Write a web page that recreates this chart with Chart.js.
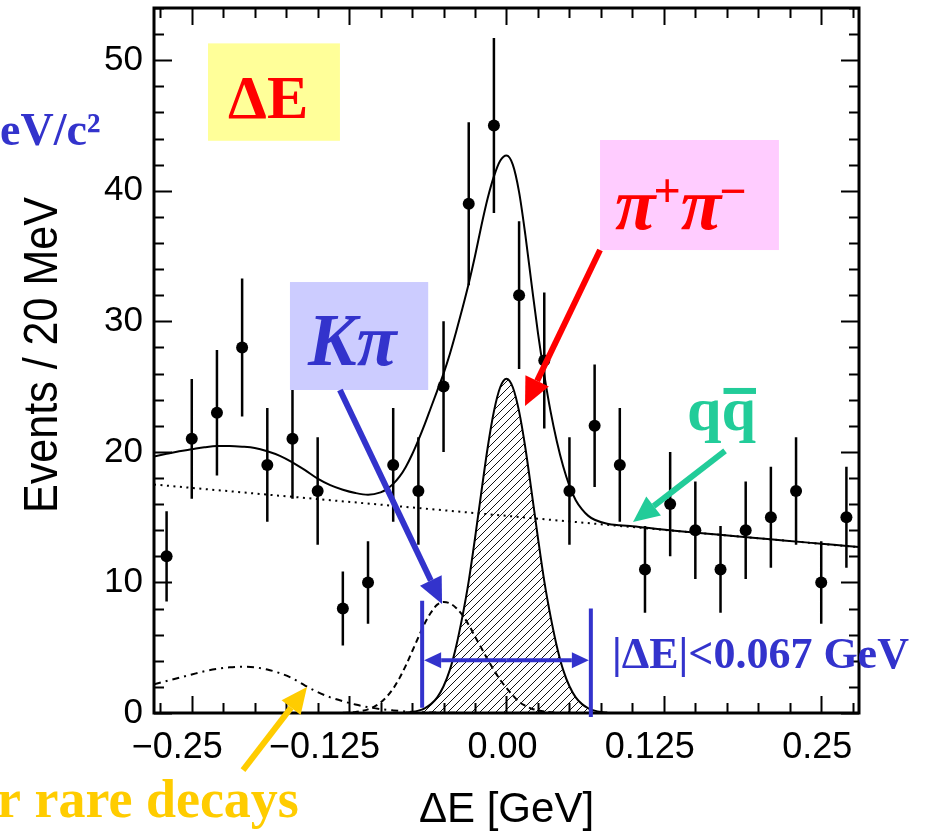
<!DOCTYPE html>
<html>
<head>
<meta charset="utf-8">
<title>ΔE distribution</title>
<script src="https://cdn.jsdelivr.net/npm/chart.js@4.4.1/dist/chart.umd.min.js"></script>
<style>
  html, body { margin: 0; padding: 0; background: #ffffff; overflow: hidden; }
  #wrap { position: relative; width: 930px; height: 833px; }
</style>
</head>
<body>
<div id="wrap"><canvas id="c" width="930" height="833"></canvas></div>
<script>
// ---- measured events per 20 MeV bin ----
const binCenters = [-0.27, -0.25, -0.23, -0.21, -0.19, -0.17, -0.15, -0.13, -0.11, -0.09,
                    -0.07, -0.05, -0.03, -0.01, 0.01, 0.03, 0.05, 0.07, 0.09, 0.11,
                    0.13, 0.15, 0.17, 0.19, 0.21, 0.23, 0.25, 0.27];
const counts = [12, 21, 23, 28, 19, 21, 17, 8, 10, 19,
                17, 25, 39, 45, 32, 27, 17, 22, 19, 11,
                16, 14, 11, 14, 15, 17, 10, 15];
const countErrors = [3.46, 4.58, 4.80, 5.29, 4.36, 4.58, 4.12, 2.83, 3.16, 4.36,
                     4.12, 5.00, 6.24, 6.71, 5.66, 5.20, 4.12, 4.69, 4.36, 3.32,
                     4.00, 3.74, 3.32, 3.74, 3.87, 4.12, 3.16, 3.87];

// ---- total fit ----
const totalX = [-0.28, -0.27, -0.26, -0.25, -0.24, -0.23, -0.22, -0.21, -0.20, -0.19,
                -0.18, -0.17, -0.16, -0.15, -0.14, -0.13, -0.12, -0.11, -0.10, -0.095,
                -0.09, -0.085, -0.08, -0.075, -0.07, -0.065, -0.06, -0.055, -0.05, -0.045,
                -0.04, -0.035, -0.03, -0.025, -0.02, -0.015, -0.01, -0.005, 0.0, 0.005,
                0.01, 0.015, 0.02, 0.025, 0.03, 0.035, 0.04, 0.045, 0.05, 0.055,
                0.06, 0.065, 0.07, 0.08, 0.09, 0.10, 0.11, 0.12, 0.13, 0.14,
                0.16, 0.18, 0.20, 0.22, 0.24, 0.26, 0.28];
const totalY = [19.65, 19.85, 20.05, 20.2, 20.35, 20.45, 20.45, 20.4, 20.3, 20.05,
                19.7, 19.2, 18.6, 17.95, 17.45, 17.1, 16.85, 16.72, 16.9, 17.15,
                17.55, 18.1, 18.85, 19.8, 20.9, 22.1, 23.4, 24.7, 26.0, 27.5,
                29.2, 31.0, 32.9, 35.0, 37.3, 39.4, 41.1, 42.3, 42.7, 42.0,
                39.9, 36.6, 32.8, 29.1, 25.9, 23.1, 20.8, 18.9, 17.4, 16.3,
                15.6, 15.1, 14.8, 14.5, 14.38, 14.3, 14.2, 14.1, 14.0, 13.9,
                13.73, 13.56, 13.39, 13.22, 13.05, 12.88, 12.71];

// ---- continuum (q qbar) background ----
const qqX = [-0.28, -0.14, 0.0, 0.14, 0.28];
const qqY = [17.5, 16.3, 15.1, 13.9, 12.7];

// ---- pi+ pi- signal ----
const pipiX = [-0.08, -0.075, -0.07, -0.065, -0.06, -0.055, -0.05, -0.045, -0.04, -0.035,
               -0.03, -0.025, -0.02, -0.015, -0.01, -0.005, 0.0, 0.005, 0.01, 0.015,
               0.02, 0.025, 0.03, 0.035, 0.04, 0.045, 0.05, 0.055, 0.06, 0.065,
               0.07, 0.075, 0.08];
const pipiY = [0.03, 0.08, 0.18, 0.36, 0.68, 1.2, 2.05, 3.3, 5.1, 7.4,
               10.1, 13.4, 16.9, 20.3, 23.1, 24.95, 25.6, 24.95, 23.1, 20.3,
               16.9, 13.4, 10.1, 7.4, 5.1, 3.3, 2.05, 1.2, 0.68, 0.36,
               0.18, 0.08, 0.03];

// ---- K pi feed-across ----
const kpiX = [-0.13, -0.125, -0.12, -0.115, -0.11, -0.105, -0.10, -0.095, -0.09, -0.085,
              -0.08, -0.075, -0.07, -0.065, -0.06, -0.055, -0.05, -0.045, -0.04, -0.035,
              -0.03, -0.025, -0.02, -0.015, -0.01, -0.005, 0.0, 0.005, 0.01, 0.015,
              0.02, 0.025, 0.03, 0.035, 0.04];
const kpiY = [0.02, 0.04, 0.08, 0.16, 0.28, 0.49, 0.8, 1.26, 1.87, 2.67,
              3.63, 4.71, 5.8, 6.85, 7.7, 8.3, 8.5, 8.4, 8.05, 7.5,
              6.75, 5.85, 4.98, 4.1, 3.28, 2.54, 1.92, 1.35, 0.85, 0.55,
              0.33, 0.2, 0.11, 0.05, 0.02];

// ---- other rare B decays ----
const rareX = [-0.28, -0.27, -0.26, -0.25, -0.24, -0.23, -0.22, -0.21, -0.20, -0.19,
               -0.18, -0.17, -0.16, -0.15, -0.14, -0.13, -0.12, -0.11, -0.10, -0.09,
               -0.08, -0.07, -0.06, -0.05, -0.04];
const rareY = [2.2, 2.45, 2.7, 2.95, 3.2, 3.38, 3.5, 3.55, 3.5, 3.33,
               3.05, 2.65, 2.1, 1.6, 1.2, 0.9, 0.65, 0.45, 0.3, 0.2,
               0.12, 0.07, 0.04, 0.02, 0.01];

// ---- axis ticks ----
const xTickValues = [-0.25, -0.125, 0.0, 0.125, 0.25];
const xTickLabels = ['\u22120.25', '\u22120.125', '0.00', '0.125', '0.25'];
const yTickValues = [0, 10, 20, 30, 40, 50];
const yTickLabels = ['0', '10', '20', '30', '40', '50'];
const xMinorStep = 0.025;
const yMinorStep = 2;

// signal window |ΔE| < 0.067 GeV
const windowHalfWidth = 0.067;

const BLUE = '#3333cc';
const RED = '#ff0000';
const TEAL = '#22cc99';
const GOLD = '#ffcc00';

function pairs(xs, ys) { return xs.map((x, i) => ({ x: x, y: ys[i] })); }

// diagonal hatching used for the pi pi component
function hatchPattern() {
  const s = 8;
  const cv = document.createElement('canvas');
  cv.width = s; cv.height = s;
  const g = cv.getContext('2d');
  g.strokeStyle = '#111';
  g.lineWidth = 1;
  g.beginPath();
  g.moveTo(0, s); g.lineTo(s, 0);
  g.moveTo(-1, 1); g.lineTo(1, -1);
  g.moveTo(s - 1, s + 1); g.lineTo(s + 1, s - 1);
  g.stroke();
  return g.createPattern(cv, 'repeat');
}

function arrow(ctx, x0, y0, x1, y1, color, width, headLen, headHalf) {
  const ang = Math.atan2(y1 - y0, x1 - x0);
  const bx = x1 - headLen * Math.cos(ang), by = y1 - headLen * Math.sin(ang);
  ctx.save();
  ctx.strokeStyle = color; ctx.fillStyle = color;
  ctx.lineWidth = width; ctx.lineCap = 'butt';
  ctx.beginPath(); ctx.moveTo(x0, y0); ctx.lineTo(bx, by); ctx.stroke();
  ctx.beginPath();
  ctx.moveTo(x1, y1);
  ctx.lineTo(bx + headHalf * Math.sin(ang), by - headHalf * Math.cos(ang));
  ctx.lineTo(bx - headHalf * Math.sin(ang), by + headHalf * Math.cos(ang));
  ctx.closePath(); ctx.fill();
  ctx.restore();
}

// error bars for the measured points
const errorBarPlugin = {
  id: 'errorBars',
  afterDatasetsDraw(chart) {
    const { ctx, scales: { x, y } } = chart;
    ctx.save();
    ctx.strokeStyle = '#000';
    ctx.lineWidth = 2.5;
    ctx.beginPath();
    binCenters.forEach((c, i) => {
      const px = x.getPixelForValue(c);
      ctx.moveTo(px, y.getPixelForValue(counts[i] - countErrors[i]));
      ctx.lineTo(px, y.getPixelForValue(counts[i] + countErrors[i]));
    });
    ctx.stroke();
    ctx.restore();
  }
};

// closed frame with inward ticks on all four sides
const framePlugin = {
  id: 'frame',
  afterDraw(chart) {
    const { ctx, chartArea: a, scales: { x, y } } = chart;
    ctx.save();
    ctx.strokeStyle = '#000';
    ctx.lineWidth = 2;
    ctx.beginPath();
    for (let v = -0.275; v <= 0.2751; v += xMinorStep) {
      const major = xTickValues.some(t => Math.abs(t - v) < 1e-6);
      const len = major ? 17 : 10;
      const px = Math.round(x.getPixelForValue(v)) + 0.5;
      ctx.moveTo(px, a.bottom); ctx.lineTo(px, a.bottom - len);
      ctx.moveTo(px, a.top); ctx.lineTo(px, a.top + len);
    }
    for (let v = 0; v <= 54; v += yMinorStep) {
      const major = yTickValues.includes(v);
      const len = major ? 18 : 10;
      const py = Math.round(y.getPixelForValue(v)) + 0.5;
      ctx.moveTo(a.left, py); ctx.lineTo(a.left + len, py);
      ctx.moveTo(a.right, py); ctx.lineTo(a.right - len, py);
    }
    ctx.stroke();
    ctx.lineWidth = 3;
    ctx.strokeRect(a.left, a.top, a.right - a.left, a.bottom - a.top);
    ctx.restore();
  }
};

// labels, boxes and arrows
const labelPlugin = {
  id: 'labels',
  afterDraw(chart) {
    const { ctx, scales: { x, y } } = chart;
    const X = v => x.getPixelForValue(v);
    const Y = v => y.getPixelForValue(v);
    ctx.save();
    ctx.textBaseline = 'alphabetic';
    ctx.textAlign = 'left';

    // axis titles
    ctx.fillStyle = '#000';
    ctx.font = '42px "Liberation Sans", Arial, sans-serif';
    ctx.textAlign = 'center';
    ctx.fillText('ΔE [GeV]', (x.left + x.right) / 2, 822);
    ctx.save();
    ctx.translate(56.5, 355);
    ctx.rotate(-Math.PI / 2);
    ctx.scale(0.897, 1);
    ctx.font = '48px "Liberation Sans", Arial, sans-serif';
    ctx.fillText('Events / 20 MeV', 0, 0);
    ctx.restore();
    ctx.textAlign = 'left';

    // ΔE tag
    ctx.fillStyle = '#ffff99';
    ctx.fillRect(X(-0.2371), Y(51.29), X(-0.1323) - X(-0.2371), Y(43.83) - Y(51.29));
    ctx.fillStyle = RED;
    ctx.font = 'bold 62px "Liberation Serif", "Times New Roman", serif';
    ctx.fillText('ΔE', X(-0.2212), Y(45.57));

    // pi+ pi- tag
    ctx.fillStyle = '#ffccff';
    ctx.fillRect(X(0.0743), Y(43.89), X(0.2164) - X(0.0743), Y(35.46) - Y(43.89));
    ctx.fillStyle = RED;
    let tx = X(0.0862), ty = Y(37.1);
    ctx.font = 'italic bold 74px "Liberation Serif", "Times New Roman", serif';
    ctx.fillText('π', tx, ty); tx += ctx.measureText('π').width - 2;
    ctx.font = 'bold 48px "Liberation Serif", "Times New Roman", serif';
    ctx.fillText('+', tx, ty - 22); tx += ctx.measureText('+').width;
    ctx.font = 'italic bold 74px "Liberation Serif", "Times New Roman", serif';
    ctx.fillText('π', tx, ty); tx += ctx.measureText('π').width - 2;
    ctx.font = 'bold 48px "Liberation Serif", "Times New Roman", serif';
    ctx.fillText('\u2212', tx, ty - 22);
    arrow(ctx, X(0.0743), Y(35.46), X(0.0147), Y(23.51), RED, 6, 28, 13);

    // K pi tag
    ctx.fillStyle = '#ccccff';
    ctx.fillRect(X(-0.172), Y(33.01), X(-0.0622) - X(-0.172), Y(24.74) - Y(33.01));
    ctx.fillStyle = BLUE;
    ctx.font = 'italic bold 73px "Liberation Serif", "Times New Roman", serif';
    ctx.fillText('Kπ', X(-0.1577), Y(26.65));
    arrow(ctx, X(-0.1323), Y(24.74), X(-0.0512), Y(8.35), BLUE, 6, 26, 12);

    // q qbar tag
    ctx.fillStyle = TEAL;
    ctx.font = 'bold 62px "Liberation Serif", "Times New Roman", serif';
    const qx = X(0.1434), qy = Y(21.68);
    ctx.fillText('qq', qx, qy);
    const qw = ctx.measureText('q').width;
    ctx.fillRect(qx + qw + 2, qy - 42, qw - 2, 6);
    arrow(ctx, X(0.1736), Y(20.07), X(0.1005), Y(14.63), TEAL, 6, 26, 12);

    // rare decays tag (outside the frame)
    ctx.fillStyle = GOLD;
    ctx.font = 'bold 54px "Liberation Serif", "Times New Roman", serif';
    ctx.fillText('r rare decays', -3, 817);
    arrow(ctx, X(-0.2093), Y(-4.37), X(-0.1585), Y(1.99), GOLD, 6, 26, 12);

    // mass label fragment at the top left
    ctx.fillStyle = BLUE;
    ctx.font = 'bold 46px "Liberation Serif", "Times New Roman", serif';
    ctx.fillText('eV/c²', 0, 145);

    // signal window
    ctx.strokeStyle = BLUE;
    ctx.lineWidth = 4;
    ctx.beginPath();
    ctx.moveTo(X(-windowHalfWidth), Y(8.6)); ctx.lineTo(X(-windowHalfWidth), Y(0.4));
    ctx.moveTo(X(windowHalfWidth), Y(8.0)); ctx.lineTo(X(windowHalfWidth), Y(-0.3));
    ctx.stroke();
    const ay = Y(4.05);
    arrow(ctx, (X(-windowHalfWidth) + X(windowHalfWidth)) / 2, ay, X(-windowHalfWidth) + 2, ay, BLUE, 4, 17, 8);
    arrow(ctx, (X(-windowHalfWidth) + X(windowHalfWidth)) / 2, ay, X(windowHalfWidth) - 2, ay, BLUE, 4, 17, 8);
    ctx.fillStyle = BLUE;
    ctx.font = 'bold 44px "Liberation Serif", "Times New Roman", serif';
    ctx.fillText('|ΔE|<0.067 GeV', X(0.0838), Y(3.45));

    ctx.restore();
  }
};

const ctx = document.getElementById('c').getContext('2d');
new Chart(ctx, {
  data: {
    datasets: [
      {
        type: 'scatter', label: 'data', order: 0,
        data: pairs(binCenters, counts),
        pointRadius: 6, pointBackgroundColor: '#000', pointBorderWidth: 0
      },
      {
        type: 'line', label: 'fit', order: 1,
        data: pairs(totalX, totalY),
        borderColor: '#000', borderWidth: 2, pointRadius: 0,
        cubicInterpolationMode: 'monotone', fill: false
      },
      {
        type: 'line', label: 'qqbar', order: 2,
        data: pairs(qqX, qqY),
        borderColor: '#000', borderWidth: 2, borderDash: [2, 4.5], pointRadius: 0, fill: false
      },
      {
        type: 'line', label: 'pipi', order: 3,
        data: pairs(pipiX, pipiY),
        borderColor: '#000', borderWidth: 2, pointRadius: 0,
        cubicInterpolationMode: 'monotone',
        fill: 'origin', backgroundColor: hatchPattern()
      },
      {
        type: 'line', label: 'kpi', order: 4,
        data: pairs(kpiX, kpiY),
        borderColor: '#000', borderWidth: 2, borderDash: [6, 4], pointRadius: 0,
        cubicInterpolationMode: 'monotone', fill: false
      },
      {
        type: 'line', label: 'rare', order: 5,
        data: pairs(rareX, rareY),
        borderColor: '#000', borderWidth: 2, borderDash: [7, 5, 2, 5], pointRadius: 0,
        cubicInterpolationMode: 'monotone', fill: false
      }
    ]
  },
  options: {
    responsive: false,
    animation: false,
    devicePixelRatio: 1,
    layout: { padding: { left: 0, top: 8, right: 71, bottom: 0 } },
    plugins: { legend: { display: false }, tooltip: { enabled: false } },
    scales: {
      x: {
        type: 'linear', position: 'bottom', min: -0.28, max: 0.28,
        afterBuildTicks: s => { s.ticks = xTickValues.map(v => ({ value: v })); },
        afterFit: s => { s.height = 120; s.paddingLeft = 0; s.paddingRight = 0; },
        grid: { display: false, drawTicks: false },
        border: { display: false },
        ticks: {
          font: { family: '"Liberation Sans", Arial, sans-serif', size: 36 },
          color: '#000', padding: 13, align: 'end', labelOffset: 31,
          maxRotation: 0, minRotation: 0, autoSkip: false,
          callback: (v, i) => xTickLabels[i]
        }
      },
      y: {
        type: 'linear', position: 'left', min: 0, max: 54,
        afterBuildTicks: s => { s.ticks = yTickValues.map(v => ({ value: v })); },
        afterFit: s => { s.width = 154; s.paddingTop = 0; s.paddingBottom = 0; },
        grid: { display: false, drawTicks: false },
        border: { display: false },
        ticks: {
          font: { family: '"Liberation Sans", Arial, sans-serif', size: 35 },
          color: '#000', padding: 11, autoSkip: false,
          callback: (v, i) => yTickLabels[i]
        }
      }
    }
  },
  plugins: [errorBarPlugin, framePlugin, labelPlugin]
});
</script>
</body>
</html>
